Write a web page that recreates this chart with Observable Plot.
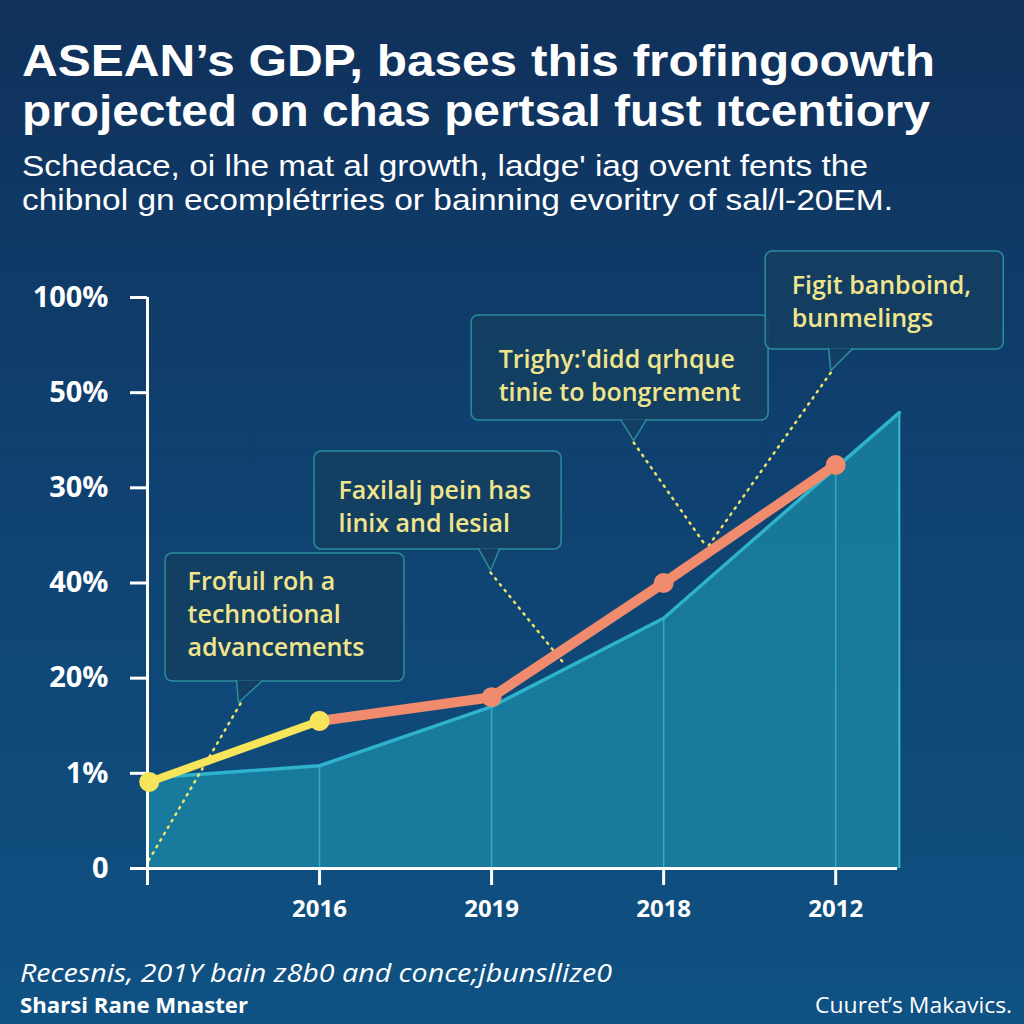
<!DOCTYPE html>
<html><head><meta charset="utf-8">
<script src="https://cdn.jsdelivr.net/npm/d3@7"></script>
<script src="https://cdn.jsdelivr.net/npm/@observablehq/plot@0.6"></script>
<style>
html,body{margin:0;padding:0;}
body{width:1024px;height:1024px;position:relative;overflow:hidden;
 background:linear-gradient(180deg,#10315b 0%,#0f4170 45%,#0f5283 100%);
 font-family:"Open Sans",sans-serif;color:#fff;}
.fit{position:absolute;white-space:nowrap;line-height:1;transform-origin:left top;}
.t{left:22px;font-family:"Liberation Sans",Arial,sans-serif;font-weight:700;font-size:44px;}
.s{left:22px;font-family:"Liberation Sans",Arial,sans-serif;font-size:29px;}
#chart{position:absolute;left:0;top:240px;}
.f1{left:20px;top:959px;font-style:italic;font-size:26px;}
.f2{left:20px;top:993px;font-weight:700;font-size:22px;}
.f3{top:993px;font-size:22px;transform-origin:right top;}
</style></head>
<body>
<div class="fit t" style="top:39px" data-w="913">ASEAN’s GDP, bases this frofingoowth</div>
<div class="fit t" style="top:89px" data-w="908">projected on chas pertsal fust ıtcentiory</div>
<div class="fit s" style="top:152px" data-w="846">Schedace, oi lhe mat al growth, ladge' iag ovent fents the</div>
<div class="fit s" style="top:186px" data-w="871">chibnol gn ecomplétrries or bainning evoritry of sal/l-20EM.</div>
<div id="chart"></div>
<div class="fit f1" data-w="592">Recesnis, 201Y bain z8b0 and conce;jbunsllize0</div>
<div class="fit f2" data-w="228">Sharsi Rane Mnaster</div>
<div class="fit f3" data-w="197" data-right="1012">Cuuret’s Makavics.</div>
<script>
const xLabels = ["", "2016", "2019", "2018", "2012"];
const yLabels = ["0", "1%", "20%", "40%", "30%", "50%", "100%"];
const areaX = [0, 1, 2, 3, 4, 4.37];
const areaY = [0.95, 1.08, 1.70, 2.63, 4.21, 4.79];
const yellowX = [0.01, 1];
const yellowY = [0.91, 1.55];
const orangeX = [1, 2, 3, 4];
const orangeY = [1.55, 1.80, 3.00, 4.24];

// annotation boxes (data coordinates)
const noteText = [
  "Frofuil roh a\ntechnotional\nadvancements",
  "Faxilalj pein has\nlinix and lesial",
  "Trighy:'didd qrhque\ntinie to bongrement",
  "Figit banboind,\nbunmelings"
];
const noteX1 = [0.105, 0.971, 1.884, 3.593];
const noteX2 = [1.494, 2.407, 3.610, 4.977];
const noteY1 = [1.965, 3.352, 4.707, 5.453];
const noteY2 = [3.31, 4.382, 5.811, 6.483];
const noteTextX = [0.233, 1.110, 2.041, 3.744];
const noteTextY = [3.17, 4.13, 5.51, 6.28];
// pointer triangles: left base, tip, right base
const ptrX = [[0.517, 0.529, 0.669], [1.924, 1.994, 2.047], [2.75, 2.826, 2.90], [3.959, 3.971, 4.099]];
const ptrY = [[1.975, 1.744, 1.975], [3.362, 3.132, 3.362], [4.717, 4.497, 4.717], [5.463, 5.232, 5.463]];
// dotted leaders
const leadX1 = [0.541, 1.994, 2.826, 3.971];
const leadY1 = [1.734, 3.11, 4.476, 5.21];
const leadX2 = [0, 2.430, 3.244, 3.25];
const leadY2 = [0.063, 2.133, 3.394, 3.362];

const area = areaX.map((x, i) => ({x, y: areaY[i]}));
const yellow = yellowX.map((x, i) => ({x, y: yellowY[i]}));
const orange = orangeX.map((x, i) => ({x, y: orangeY[i]}));
const notes = noteText.map((t, i) => ({t, x1: noteX1[i], x2: noteX2[i], y1: noteY1[i], y2: noteY2[i], tx: noteTextX[i], ty: noteTextY[i]}));
const ptrs = ptrX.flatMap((xs, i) => xs.map((x, j) => ({k: i, x, y: ptrY[i][j]})));
const leads = leadX1.map((x, i) => ({x1: x, y1: leadY1[i], x2: leadX2[i], y2: leadY2[i]}));
const vlines = area.filter(d => d.x >= 1 && d.x <= 4);

const chart = Plot.plot({
  width: 1024, height: 690,
  marginLeft: 147, marginRight: 120, marginTop: 57, marginBottom: 62,
  x: {domain: [0, 4.4]},
  y: {domain: [0, 6]},
  style: {background: "transparent", color: "white", fontFamily: "'Open Sans', sans-serif", overflow: "visible"},
  marks: [
    Plot.areaY(area, {x: "x", y: "y", fill: "#1c8eaa", fillOpacity: 0.72}),
    Plot.ruleX(vlines, {x: "x", y1: 0, y2: "y", stroke: "#3cbcd2", strokeWidth: 1.5, strokeOpacity: 0.75}),
    Plot.ruleX([4.37], {y1: 0, y2: 4.79, stroke: "#3cbcd2", strokeWidth: 2}),
    Plot.lineY(area, {x: "x", y: "y", stroke: "#2fb2cb", strokeWidth: 3.5}),
    Plot.link(leads, {x1: "x1", y1: "y1", x2: "x2", y2: "y2", stroke: "#eee36a", strokeWidth: 2.5, strokeDasharray: "1.5,6", strokeLinecap: "round"}),
    Plot.rect(notes, {x1: "x1", x2: "x2", y1: "y1", y2: "y2", fill: "#143f62", fillOpacity: 0.92, stroke: "#2b8d9f", strokeWidth: 1.5, rx: 7}),
    Plot.line(ptrs, {x: "x", y: "y", z: "k", fill: "#143f62", stroke: "#2b8d9f", strokeWidth: 1.5, curve: "linear"}),
    Plot.text(notes, {x: "tx", y: "ty", text: "t", textAnchor: "start", lineAnchor: "top", fill: "#f1e58c", fontSize: 25, fontWeight: 600, lineHeight: 1.32, fontStretch: "condensed"}),
    Plot.ruleX([0], {y1: -0.1, y2: 6, stroke: "white", strokeWidth: 3}),
    Plot.ruleY([0], {x1: -0.04, x2: 4.36, stroke: "white", strokeWidth: 3}),
    Plot.axisY({ticks: [0, 1, 2, 3, 4, 5, 6], tickFormat: i => yLabels[i], tickSize: 17, tickPadding: 22, fontSize: 29, fontWeight: 700, strokeWidth: 3, label: null}),
    Plot.axisX({ticks: [0, 1, 2, 3, 4], tickFormat: i => xLabels[i], tickSize: 17, tickPadding: 14, fontSize: 24, fontWeight: 700, strokeWidth: 3, label: null}),
    Plot.line(orange, {x: "x", y: "y", stroke: "#f08b6e", strokeWidth: 10, strokeLinecap: "round", strokeLinejoin: "round"}),
    Plot.dot(orange, {x: "x", y: "y", r: 10, fill: "#f08b6e"}),
    Plot.line(yellow, {x: "x", y: "y", stroke: "#f6e45a", strokeWidth: 8, strokeLinecap: "round"}),
    Plot.dot(yellow, {x: "x", y: "y", r: 10, fill: "#f6e45a"})
  ]
});
document.getElementById("chart").appendChild(chart);

// fit header/footer text widths
document.querySelectorAll(".fit").forEach(el => {
  const w = el.getBoundingClientRect().width;
  const target = +el.dataset.w;
  if (el.dataset.right) {
    el.style.left = (+el.dataset.right - w) + "px";
  }
  el.style.transform = `scaleX(${target / w})`;
});
</script>
</body></html>
